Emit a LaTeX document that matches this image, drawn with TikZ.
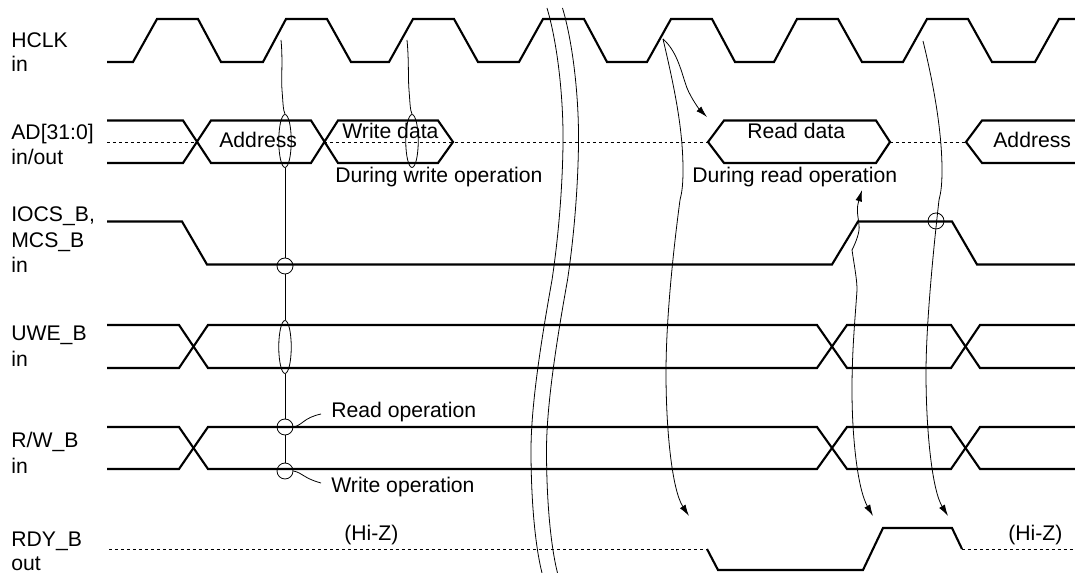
\documentclass[tikz,border=0pt]{standalone}
\usepackage{fontspec}
\setmainfont{Liberation Sans}
\usetikzlibrary{arrows.meta,shapes.geometric}
\tikzset{
	sig/.style={line width=1.2pt, line join=miter},
	fine/.style={line width=0.45pt},
	hiz/.style={line width=0.4pt, dash pattern=on 1.7pt off 1.7pt},
	lbl/.style={anchor=base west, inner sep=0pt, font=\fontsize{12.05}{14}\selectfont},
	ring/.style={draw, fine, circle, inner sep=0pt, minimum size=0.32cm},
	oval/.style={draw, fine, ellipse, inner sep=0pt, minimum width=0.25cm, minimum height=1.06cm},
	timing/.style={fine, -{Latex[length=6.5pt, width=3.8pt]}}
}
\begin{document}
\begin{tikzpicture}[x=0.02cm, y=-0.02cm]
	\useasboundingbox (0, 0) rectangle (1075, 573);

	% Signal names
	\node[lbl] (hclk) at (11, 48) {HCLK};
	\node[lbl] (hclkdir) at (11, 72) {in};
	\node[lbl] (ad) at (11, 140) {AD[31:0]};
	\node[lbl] (addir) at (11, 165) {in/out};
	\node[lbl] (iocs) at (11, 222) {IOCS\_B,};
	\node[lbl] (mcs) at (11, 248) {MCS\_B};
	\node[lbl] (csdir) at (11, 273) {in};
	\node[lbl] (uwe) at (11, 341) {UWE\_B};
	\node[lbl] (uwedir) at (11, 367) {in};
	\node[lbl] (rw) at (11, 448) {R/W\_B};
	\node[lbl] (rwdir) at (11, 474) {in};
	\node[lbl] (rdy) at (11, 547) {RDY\_B};
	\node[lbl] (rdydir) at (11, 570.5) {out};

	% HCLK
	\draw[sig] (107, 62) -- (133, 62) -- (157, 19) -- (198, 19) -- (221, 62) -- (263, 62) -- (286, 19) -- (327, 19)
		-- (351, 62) -- (389, 62) -- (413, 19) -- (454, 19) -- (478, 62) -- (519, 62) -- (543, 19) -- (584, 19)
		-- (607, 62) -- (647, 62) -- (671, 19) -- (712, 19) -- (735, 62) -- (774, 62) -- (797, 19) -- (838, 19)
		-- (862, 62) -- (903, 62) -- (927, 19) -- (968, 19) -- (992, 62) -- (1035, 62) -- (1059, 19) -- (1075, 19);

	% AD bus
	\draw[hiz] (107, 142) -- (197, 142);
	\draw[hiz] (324, 142) -- (708, 142);
	\draw[hiz] (890, 142) -- (966, 142);
	\draw[sig] (107, 120.5) -- (183, 120.5) -- (211, 163) -- (311, 163) -- (338, 120.5) -- (438, 120.5) -- (453, 142)
		-- (438, 163) -- (338, 163) -- (311, 120.5) -- (211, 120.5) -- (183, 163) -- (107, 163);
	\draw[sig] (1075, 120.5) -- (982, 120.5) -- (966, 142) -- (982, 163) -- (1075, 163);
	\draw[sig] (724, 120.5) -- (876, 120.5) -- (890, 142) -- (876, 163) -- (724, 163) -- (708, 142) -- cycle;
	\node[lbl] (addr) at (219, 148) {Address};
	\node[lbl] (wdata) at (342, 139) {Write data};
	\node[lbl] (wnote) at (335, 183) {During write operation};
	\node[lbl] (rdata) at (747, 139) {Read data};
	\node[lbl] (rnote) at (692, 183) {During read operation};
	\node[lbl] (addrb) at (993, 148) {Address};

	% IOCS_B, MCS_B
	\draw[sig] (107, 221.5) -- (182, 221.5) -- (207, 264.5) -- (832, 264.5) -- (858, 221.5) -- (952, 221.5) -- (977, 264.5) -- (1075, 264.5);

	% UWE_B and R/W_B
	\foreach \up/\dn in {325/368, 427/469} {
		\draw[sig] (107, \up) -- (179, \up) -- (208, \dn) -- (817, \dn) -- (847, \up) -- (951, \up) -- (980, \dn) -- (1075, \dn);
		\draw[sig] (107, \dn) -- (179, \dn) -- (208, \up) -- (817, \up) -- (847, \dn) -- (951, \dn) -- (980, \up) -- (1075, \up);
	}

	% RDY_B
	\draw[hiz] (109, 549) -- (707, 549);
	\draw[sig] (707, 549) -- (718, 570) -- (863, 570) -- (883, 528) -- (952, 528) -- (962, 549);
	\draw[hiz] (962, 549) -- (1075, 549);
	\node[lbl] (hizl) at (344, 541) {(Hi-Z)};
	\node[lbl] (hizr) at (1008, 541) {(Hi-Z)};

	% Break in the time axis
	\foreach \dx in {0, 15.5} {
		\draw[fine] (547+\dx, 8) .. controls (558+\dx, 45) and (563.5+\dx, 100) .. (563+\dx, 143)
			.. controls (562.5+\dx, 190) and (558+\dx, 240) .. (552+\dx, 280)
			.. controls (544+\dx, 325) and (531+\dx, 400) .. (531+\dx, 450)
			.. controls (531+\dx, 500) and (535+\dx, 545) .. (542+\dx, 573);
	}

	% Sampling marks
	\node[oval] (adA) at (285, 141) {};
	\node[oval] (adB) at (412, 141) {};
	\node[oval] (uweA) at (285, 347) {};
	\node[ring] (csA) at (285, 266) {};
	\node[ring] (csB) at (936, 221) {};
	\node[ring] (rwrd) at (285, 427) {};
	\node[ring] (rwwr) at (285, 471) {};
	\coordinate (edgeA) at (281, 40);
	\coordinate (edgeB) at (407, 40);
	\draw[fine] (edgeA) .. controls (283, 60) and (281, 80) .. (282, 90) .. controls (283, 102) and (283, 110) .. (adA.north);
	\draw[fine] (edgeB) .. controls (409, 60) and (408, 80) .. (409, 90) .. controls (410, 102) and (410, 110) .. (adB.north);
	\draw[fine] (adA) -- (csA);
	\draw[fine] (csA) -- (uweA);
	\draw[fine] (uweA) -- (rwrd);
	\draw[fine] (rwrd) -- (rwwr);

	% Read and write callouts
	\node[lbl] (rdop) at (331, 418) {Read operation};
	\node[lbl] (wrop) at (331, 493) {Write operation};
	\coordinate (rdtip) at (321, 414);
	\coordinate (wrtip) at (321, 483);
	\draw[fine] (rwrd.east) .. controls (303, 425) and (303, 418) .. (rdtip);
	\draw[fine] (rwwr.east) .. controls (303, 473) and (303, 478) .. (wrtip);

	% Timing arrows
	\coordinate (edgeC) at (663, 39);
	\coordinate (edgeD) at (923, 41);
	\coordinate (rdstart) at (707, 117);
	\coordinate (rdyfall) at (689, 516);
	\coordinate (rdylow) at (873, 516);
	\coordinate (rdyhigh) at (948, 516);
	\coordinate (noteend) at (862, 190);
	\coordinate (kink) at (852, 250);
	\draw[timing] (edgeC) .. controls (678, 52) and (682, 75) .. (687, 88) .. controls (691, 98) and (699, 109) .. (rdstart);
	\draw[timing] (edgeC) .. controls (675, 90) and (683, 130) .. (683, 170) .. controls (683, 190) and (681, 195) .. (680, 200)
		.. controls (676, 230) and (666, 310) .. (666, 373) .. controls (666, 430) and (672, 490) .. (rdyfall);
	\draw[timing] (kink) .. controls (856, 242) and (860, 232) .. (859, 225) .. controls (858, 215) and (856, 210) .. (noteend);
	\draw[timing] (kink) .. controls (855, 270) and (857, 280) .. (857, 290) .. controls (855, 320) and (852, 350) .. (852, 390)
		.. controls (852, 440) and (858, 490) .. (rdylow);
	\draw[timing] (edgeD) .. controls (935, 90) and (942, 135) .. (942, 170) .. controls (942, 190) and (940, 195) .. (939, 200)
		.. controls (935, 235) and (926, 320) .. (926, 373) .. controls (926, 430) and (932, 490) .. (rdyhigh);
\end{tikzpicture}
\end{document}
